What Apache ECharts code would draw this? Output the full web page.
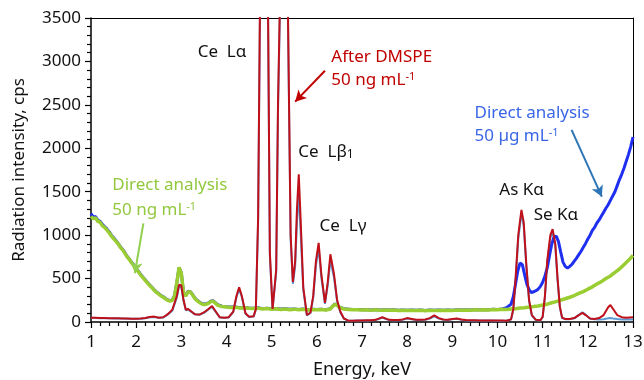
<!DOCTYPE html>
<html>
<head>
<meta charset="utf-8">
<script src="https://cdn.jsdelivr.net/npm/echarts@6/dist/echarts.min.js"></script>
<style>html,body{margin:0;padding:0;background:#fff}#c{width:644px;height:380px}</style>
</head>
<body>
<div id="c"></div>
<script>
// ---- data (keV, cps) ----
const xTicks = [1,2,3,4,5,6,7,8,9,10,11,12,13];
const yTicks = [0,500,1000,1500,2000,2500,3000,3500];

const directNg = [[1.0,1215],[1.05,1190],[1.1,1200],[1.15,1160],[1.2,1150],[1.25,1110],[1.3,1090],[1.35,1060],[1.4,1030],[1.45,990],[1.5,960],[1.55,930],[1.6,900],[1.65,860],[1.7,830],[1.75,790],[1.8,750],[1.85,720],[1.9,680],[1.95,650],[2.0,600],[2.05,580],[2.1,540],[2.15,510],[2.2,480],[2.25,450],[2.3,420],[2.35,395],[2.4,365],[2.45,340],[2.5,320],[2.55,300],[2.6,285],[2.65,265],[2.7,250],[2.75,240],[2.8,250],[2.85,300],[2.9,450],[2.95,630],[3.0,560],[3.05,330],[3.1,300],[3.15,350],[3.2,345],[3.25,310],[3.3,270],[3.35,245],[3.4,225],[3.45,210],[3.5,200],[3.55,205],[3.6,215],[3.65,235],[3.7,240],[3.75,220],[3.8,195],[3.85,185],[3.9,178],[4.0,172],[4.1,168],[4.2,170],[4.3,160],[4.4,165],[4.5,158],[4.6,155],[4.7,160],[4.8,150],[4.9,155],[5.0,148],[5.1,152],[5.2,145],[5.3,150],[5.4,142],[5.5,148],[5.6,140],[5.7,146],[5.8,138],[5.9,145],[6.0,140],[6.1,143],[6.2,138],[6.3,150],[6.35,180],[6.4,205],[6.45,190],[6.5,168],[6.6,150],[6.7,145],[6.8,140],[6.9,142],[7.0,138],[7.1,140],[7.2,136],[7.3,140],[7.4,135],[7.5,138],[7.6,134],[7.7,137],[7.8,133],[7.9,136],[8.0,132],[8.1,135],[8.2,131],[8.3,134],[8.4,130],[8.5,134],[8.6,131],[8.7,135],[8.8,132],[8.9,136],[9.0,133],[9.1,137],[9.2,134],[9.3,138],[9.4,136],[9.5,140],[9.6,137],[9.7,141],[9.8,139],[9.9,143],[10.0,141],[10.1,146],[10.2,144],[10.3,150],[10.4,152],[10.5,160],[10.6,165],[10.7,172],[10.8,178],[10.9,185],[11.0,195],[11.1,205],[11.2,222],[11.3,235],[11.4,252],[11.5,268],[11.6,285],[11.7,305],[11.8,330],[11.9,350],[12.0,378],[12.1,405],[12.2,438],[12.3,465],[12.4,500],[12.5,530],[12.6,572],[12.7,610],[12.8,660],[12.9,710],[13.0,765]];

const directUg = [[1.0,1250],[1.05,1205],[1.1,1215],[1.15,1175],[1.2,1160],[1.25,1125],[1.3,1100],[1.35,1072],[1.4,1040],[1.45,1000],[1.5,970],[1.55,938],[1.6,905],[1.65,868],[1.7,835],[1.75,798],[1.8,755],[1.85,725],[1.9,688],[1.95,655],[2.0,606],[2.05,585],[2.1,546],[2.15,515],[2.2,486],[2.25,455],[2.3,426],[2.35,400],[2.4,370],[2.45,346],[2.5,326],[2.55,306],[2.6,290],[2.65,270],[2.7,256],[2.75,245],[2.8,255],[2.85,305],[2.9,455],[2.95,625],[3.0,565],[3.05,335],[3.1,306],[3.15,355],[3.2,350],[3.25,315],[3.3,275],[3.35,250],[3.4,230],[3.45,215],[3.5,206],[3.55,210],[3.6,220],[3.65,240],[3.7,245],[3.75,225],[3.8,200],[3.85,190],[3.9,182],[4.0,176],[4.1,172],[4.2,174],[4.3,165],[4.4,168],[4.5,162],[4.6,158],[4.7,163],[4.8,154],[4.9,158],[5.0,152],[5.1,155],[5.2,149],[5.3,153],[5.4,146],[5.5,151],[5.6,144],[5.7,149],[5.8,142],[5.9,148],[6.0,143],[6.1,146],[6.2,141],[6.3,153],[6.35,182],[6.4,208],[6.45,193],[6.5,171],[6.6,153],[6.7,148],[6.8,143],[6.9,145],[7.0,141],[7.1,143],[7.2,139],[7.3,143],[7.4,138],[7.5,141],[7.6,137],[7.7,140],[7.8,136],[7.9,139],[8.0,135],[8.1,138],[8.2,134],[8.3,137],[8.4,133],[8.5,137],[8.6,134],[8.7,138],[8.8,135],[8.9,139],[9.0,136],[9.1,140],[9.2,137],[9.3,141],[9.4,139],[9.5,143],[9.6,140],[9.7,144],[9.8,142],[9.9,146],[10.0,145],[10.1,150],[10.2,165],[10.3,205],[10.35,290],[10.4,440],[10.45,590],[10.5,680],[10.55,660],[10.6,545],[10.65,435],[10.7,372],[10.75,340],[10.8,348],[10.85,360],[10.9,378],[10.95,410],[11.0,458],[11.05,530],[11.1,620],[11.15,760],[11.2,895],[11.25,975],[11.3,990],[11.35,925],[11.4,805],[11.45,690],[11.5,640],[11.55,620],[11.6,640],[11.65,665],[11.7,700],[11.75,735],[11.8,775],[11.85,815],[11.9,860],[11.95,905],[12.0,955],[12.05,1000],[12.1,1055],[12.15,1090],[12.2,1140],[12.25,1175],[12.3,1220],[12.35,1265],[12.4,1310],[12.45,1350],[12.5,1400],[12.55,1450],[12.6,1500],[12.65,1570],[12.7,1640],[12.75,1700],[12.8,1770],[12.85,1850],[12.9,1930],[12.95,2020],[13.0,2130]];

const afterDmspe = [[1.0,50],[1.1,48],[1.2,46],[1.3,45],[1.4,44],[1.5,42],[1.6,42],[1.7,40],[1.8,40],[1.9,38],[2.0,38],[2.1,40],[2.2,45],[2.3,58],[2.4,62],[2.5,50],[2.6,55],[2.7,90],[2.8,140],[2.9,300],[2.95,430],[3.0,420],[3.05,250],[3.1,140],[3.15,150],[3.2,130],[3.3,90],[3.4,85],[3.5,110],[3.6,150],[3.68,185],[3.75,130],[3.85,55],[3.95,50],[4.05,55],[4.15,120],[4.22,300],[4.28,400],[4.34,300],[4.42,100],[4.5,60],[4.6,65],[4.65,150],[4.7,1200],[4.74,3600],[4.83,9000],[4.92,3600],[4.96,800],[5.02,150],[5.06,130],[5.1,600],[5.14,2500],[5.18,3600],[5.27,9000],[5.36,3600],[5.42,1000],[5.47,460],[5.52,700],[5.56,1300],[5.6,1700],[5.64,1200],[5.7,400],[5.78,80],[5.86,110],[5.92,300],[5.98,700],[6.04,910],[6.1,550],[6.18,220],[6.24,450],[6.3,780],[6.33,800],[6.38,550],[6.45,250],[6.52,120],[6.6,40],[6.7,15],[6.8,15],[6.9,18],[7.0,18],[7.1,20],[7.2,20],[7.3,25],[7.4,45],[7.45,55],[7.5,45],[7.6,25],[7.7,22],[7.8,22],[7.9,30],[8.0,45],[8.1,35],[8.2,25],[8.3,25],[8.4,28],[8.5,45],[8.6,75],[8.7,45],[8.8,28],[8.9,25],[9.0,35],[9.1,40],[9.2,30],[9.3,22],[9.4,20],[9.5,20],[9.6,18],[9.7,18],[9.8,17],[9.9,17],[10.0,16],[10.1,16],[10.2,15],[10.3,30],[10.35,150],[10.4,500],[10.46,1000],[10.53,1290],[10.58,1150],[10.64,650],[10.7,250],[10.76,80],[10.85,25],[10.95,20],[11.0,60],[11.05,300],[11.1,700],[11.17,1000],[11.22,1070],[11.28,900],[11.33,500],[11.38,180],[11.43,50],[11.5,35],[11.6,35],[11.7,45],[11.8,80],[11.88,105],[11.95,80],[12.05,40],[12.15,35],[12.25,45],[12.35,80],[12.45,170],[12.5,195],[12.56,150],[12.65,80],[12.75,55],[12.85,50],[13.0,55]];

const blankTrace = [[1.0,48],[1.1,46],[1.2,44],[1.3,44],[1.4,42],[1.5,41],[1.6,40],[1.7,39],[1.8,38],[1.9,37],[2.0,37],[2.1,38],[2.2,43],[2.3,55],[2.4,58],[2.5,48],[2.6,52],[2.7,85],[2.8,130],[2.9,280],[2.95,410],[3.0,400],[3.05,240],[3.1,135],[3.15,145],[3.2,125],[3.3,88],[3.4,82],[3.5,105],[3.6,145],[3.68,175],[3.75,125],[3.85,52],[3.95,48],[4.05,52],[4.15,115],[4.22,285],[4.28,380],[4.34,285],[4.42,95],[4.5,58],[4.6,62],[4.65,140],[4.7,1150],[4.74,3500],[4.83,9000],[4.92,3500],[4.96,760],[5.02,145],[5.06,125],[5.1,570],[5.14,2400],[5.18,3500],[5.27,9000],[5.36,3500],[5.42,950],[5.47,440],[5.52,640],[5.56,1150],[5.6,1480],[5.64,1050],[5.7,370],[5.78,75],[5.86,105],[5.92,280],[5.98,650],[6.04,850],[6.1,510],[6.18,210],[6.24,420],[6.3,710],[6.33,730],[6.38,510],[6.45,235],[6.52,110],[6.6,38],[6.7,14],[6.8,14],[6.9,16],[7.0,17],[7.1,18],[7.2,19],[7.3,23],[7.4,40],[7.45,50],[7.5,40],[7.6,23],[7.7,20],[7.8,20],[7.9,27],[8.0,40],[8.1,32],[8.2,23],[8.3,23],[8.4,25],[8.5,40],[8.6,65],[8.7,40],[8.8,25],[8.9,23],[9.0,32],[9.1,36],[9.2,27],[9.3,20],[9.4,18],[9.5,18],[9.6,17],[9.7,17],[9.8,16],[9.9,16],[10.0,15],[10.1,15],[10.2,14],[10.3,28],[10.35,140],[10.4,470],[10.46,960],[10.53,1250],[10.58,1110],[10.64,620],[10.7,235],[10.76,75],[10.85,23],[10.95,18],[11.0,55],[11.05,285],[11.1,670],[11.17,970],[11.22,1040],[11.28,870],[11.33,480],[11.38,170],[11.43,46],[11.5,33],[11.6,33],[11.7,42],[11.8,82],[11.88,110],[11.95,85],[12.05,38],[12.15,32],[12.25,30],[12.35,32],[12.45,42],[12.5,45],[12.56,40],[12.65,35],[12.75,30],[12.85,28],[13.0,30]];

// annotations in data coordinates
const labels = [
  {t:'Ce  L\u03b1', x:3.35, y:3108, c:'#111'},
  {t:'After DMSPE', x:6.31, y:3051, c:'#c00000'},
  {t:'50 ng mL{sup|-1}', x:6.31, y:2786, c:'#c00000'},
  {t:'Ce  L\u03b2{sub|1}', x:5.58, y:1957, c:'#111'},
  {t:'Ce  L\u03b3', x:6.05, y:1105, c:'#111'},
  {t:'As K\u03b1', x:10.03, y:1520, c:'#111'},
  {t:'Se K\u03b1', x:10.79, y:1232, c:'#111'},
  {t:'Direct analysis', x:9.48, y:2406, c:'#3a66e6'},
  {t:'50 \u00b5g mL{sup|-1}', x:9.48, y:2141, c:'#3a66e6'},
  {t:'Direct analysis', x:1.46, y:1577, c:'#92c83e'},
  {t:'50 ng mL{sup|-1}', x:1.46, y:1289, c:'#92c83e'}
];
const arrows = [
  {from:[6.18,2893], to:[5.52,2537], c:'#c00000'},
  {from:[11.64,2211], to:[12.31,1443], c:'#2e75b6'},
  {from:[2.16,1136], to:[1.97,561], c:'#92d050'}
];
const xName = 'Energy, keV';
const yName = 'Radiation intensity, cps';

const FONT = 'Noto Sans';
const chart = echarts.init(document.getElementById('c'));
const lineSeries = (name, data, color, width, z) => ({
  name, type:'line', data, showSymbol:false, symbol:'none', z,
  lineStyle:{color, width}, itemStyle:{color}, clip:true, silent:true
});
const redSeries = lineSeries('After DMSPE', afterDmspe, '#c0101a', 2, 5);
redSeries.markLine = {
  silent:true, symbol:['none','arrow'], symbolSize:[9,11], label:{show:false},
  data: arrows.map(a => [{coord:a.from, lineStyle:{color:a.c, width:2, type:'solid'}}, {coord:a.to}])
};
redSeries.markPoint = {
  silent:true, symbol:'circle', symbolSize:1, itemStyle:{color:'rgba(0,0,0,0)'},
  data: labels.map(l => ({coord:[l.x, l.y], value:0,
    label:{show:true, position:'right', distance:0, formatter:l.t, color:l.c,
      fontFamily:FONT, fontSize:17, align:'left', verticalAlign:'middle',
      rich:{sup:{fontSize:11, verticalAlign:'top', color:l.c, fontFamily:FONT},
            sub:{fontSize:12, verticalAlign:'bottom', color:l.c, fontFamily:FONT}}}}))
};
const frameAxis = (extra) => Object.assign({type:'value', axisLine:{show:true, onZero:false, lineStyle:{color:'#000', width:1}},
  axisTick:{show:false}, axisLabel:{show:false}, splitLine:{show:false}}, extra);
chart.setOption({
  animation:false,
  grid:{left:91, right:11, top:18, bottom:58, outerBoundsMode:'none'},
  xAxis:[{type:'value', min:1, max:13, interval:1, position:'bottom',
    axisLine:{show:true, onZero:false, lineStyle:{color:'#000', width:1.5}},
    axisTick:{show:true, length:6, lineStyle:{color:'#000', width:1.2}},
    minorTick:{show:true, splitNumber:5, length:4, lineStyle:{color:'#000', width:1.2}},
    splitLine:{show:false},
    axisLabel:{fontFamily:FONT, fontSize:17, color:'#111', margin:12,
      formatter:v => xTicks.includes(v) ? String(v) : ''}
  }, frameAxis({min:1, max:13, position:'top'})],
  yAxis:[{type:'value', min:0, max:3500, interval:500, position:'left',
    axisLine:{show:true, onZero:false, lineStyle:{color:'#000', width:1.5}},
    axisTick:{show:true, length:6, lineStyle:{color:'#000', width:1.2}},
    minorTick:{show:true, splitNumber:5, length:4, lineStyle:{color:'#000', width:1.2}},
    splitLine:{show:false},
    axisLabel:{fontFamily:FONT, fontSize:17, color:'#111', margin:10,
      formatter:v => yTicks.includes(v) ? String(v) : ''}
  }, frameAxis({min:0, max:3500, position:'right'})],
  graphic:[
    {type:'text', x:362, y:370, silent:true,
      style:{text:xName, fill:'#111', font:'18px "' + FONT + '"', align:'center', verticalAlign:'middle'}},
    {type:'text', x:19, y:170, rotation:Math.PI / 2, silent:true,
      style:{text:yName, fill:'#111', font:'17px "' + FONT + '"', align:'center', verticalAlign:'middle'}}
  ],
  series:[
    lineSeries('Blank', blankTrace, '#5b9bd5', 2, 1),
    lineSeries('Direct analysis 50 \u00b5g mL-1', directUg, '#1f2ff0', 3, 2),
    lineSeries('Direct analysis 50 ng mL-1', directNg, '#9acd32', 3.5, 3),
    redSeries
  ]
});
</script>
</body>
</html>
